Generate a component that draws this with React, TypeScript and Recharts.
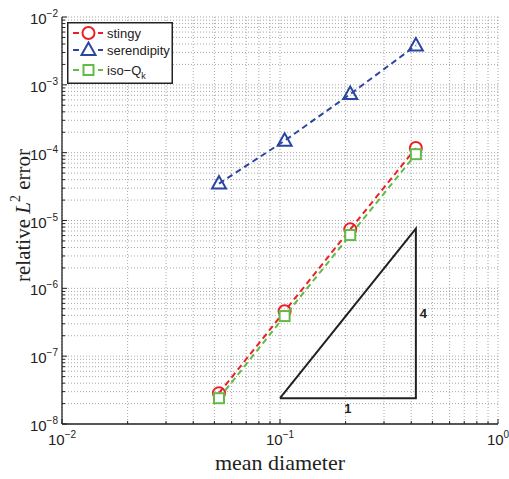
import { ScatterChart, Scatter, XAxis, YAxis, CartesianGrid, Legend, ReferenceDot } from "recharts";

const diameters = [0.0525, 0.105, 0.21, 0.42];
const stingyErr = [2.85e-8, 4.6e-7, 7.4e-6, 1.17e-4];
const serendipityErr = [3.5e-5, 1.5e-4, 7.3e-4, 3.8e-3];
const isoQkErr = [2.4e-8, 3.9e-7, 6.1e-6, 9.5e-5];

// slope triangle (1 : 4)
const triX = [0.1, 0.42, 0.42, 0.1];
const triY = [2.4e-8, 2.4e-8, 7.6e-6, 2.4e-8];

const xDecades = [0.01, 0.1, 1];
const yDecades = [1e-8, 1e-7, 1e-6, 1e-5, 1e-4, 1e-3, 1e-2];
const minorSteps = [1, 2, 3, 4, 5, 6, 7, 8, 9];

const RED = "#ec1f27";
const BLUE = "#2b46a0";
const GREEN = "#62bb45";
const SANS = "Liberation Sans, Arial, sans-serif";
const SERIF = "Liberation Serif, Times New Roman, serif";

const buildTicks = (decades: number[]) => [
  ...decades.slice(0, -1).flatMap((d) => minorSteps.map((m) => m * d)),
  decades[decades.length - 1],
];
const xTicks = buildTicks(xDecades);
const yTicks = buildTicks(yDecades);

const toPoints = (xs: number[], ys: number[]) => xs.map((x, i) => ({ x, y: ys[i] }));
const stingyData = toPoints(diameters, stingyErr);
const serendipityData = toPoints(diameters, serendipityErr);
const isoData = toPoints(diameters, isoQkErr);
const triData = toPoints(triX, triY);

const tickInfo = (v: number) => {
  const lg = Math.log10(v);
  const exp = Math.round(lg);
  return { exp, major: Math.abs(lg - exp) < 1e-6 };
};

const Pow = ({ exp }: { exp: number }) => (
  <>
    10
    <tspan dy={-7} fontSize={10}>
      {exp < 0 ? "\u2212" + Math.abs(exp) : String(exp)}
    </tspan>
  </>
);

const makeTick = (side: "bottom" | "left" | "top" | "right") => (props: any) => {
  const { x, y, payload } = props;
  const { exp, major } = tickInfo(payload.value);
  const len = major ? 5 : 3;
  if (side === "bottom") {
    return (
      <g>
        <line x1={x} x2={x} y1={y} y2={y - len} stroke="#222" />
        {major && (
          <text x={x} y={y + 21} textAnchor="middle" fontSize={15} fontFamily={SANS} fill="#222">
            <Pow exp={exp} />
          </text>
        )}
      </g>
    );
  }
  if (side === "left") {
    return (
      <g>
        <line x1={x} x2={x + len} y1={y} y2={y} stroke="#222" />
        {major && (
          <text x={x - 4} y={y + 7} textAnchor="end" fontSize={15} fontFamily={SANS} fill="#222">
            <Pow exp={exp} />
          </text>
        )}
      </g>
    );
  }
  if (side === "top") return <line x1={x} x2={x} y1={y} y2={y + len} stroke="#222" />;
  return <line x1={x} x2={x - len} y1={y} y2={y} stroke="#222" />;
};

const Circle = ({ cx, cy }: any) => <circle cx={cx} cy={cy} r={6} fill="none" stroke={RED} strokeWidth={2} />;
const Tri = ({ cx, cy }: any) => (
  <polygon
    points={`${cx},${cy - 7.5} ${cx - 7},${cy + 5} ${cx + 7},${cy + 5}`}
    fill="none"
    stroke={BLUE}
    strokeWidth={2}
  />
);
const Sq = ({ cx, cy }: any) => (
  <rect x={cx - 5} y={cy - 5} width={10} height={10} fill="#fff" stroke={GREEN} strokeWidth={2} />
);

const legendRows = [
  { name: "stingy", color: RED, Mark: Circle },
  { name: "serendipity", color: BLUE, Mark: Tri },
  { name: "iso\u2212Q", color: GREEN, Mark: Sq, sub: "k" },
];

const LegendBox = () => (
  <svg width={106} height={62} style={{ display: "block" }}>
    <rect x={0.75} y={0.75} width={104.5} height={60.5} fill="#fff" stroke="#222" strokeWidth={1.5} />
    {legendRows.map((r, i) => {
      const cy = [11, 28, 48][i];
      return (
        <g key={r.name}>
          <line x1={6} x2={12} y1={cy} y2={cy} stroke={r.color} strokeWidth={2} />
          <line x1={31} x2={36} y1={cy} y2={cy} stroke={r.color} strokeWidth={2} />
          <r.Mark cx={21.5} cy={cy} />
          <text x={40} y={cy + 4.5} fontSize={13} fontFamily={SANS} fill="#222">
            {r.name}
            {r.sub && (
              <tspan dy={4} fontSize={9}>
                {r.sub}
              </tspan>
            )}
          </text>
        </g>
      );
    })}
  </svg>
);

const dash = { strokeWidth: 2, strokeDasharray: "6 4" };

export default function App() {
  return (
    <div style={{ position: "absolute", left: 0, top: 0, background: "#fff" }}>
      <ScatterChart width={509} height={479} margin={{ top: 17, right: 11, left: 0, bottom: 0 }}>
        <CartesianGrid stroke="#a8a8a8" strokeDasharray="1 2" />
        <XAxis
          dataKey="x"
          type="number"
          scale="log"
          domain={[0.01, 1]}
          ticks={xTicks}
          interval={0}
          allowDataOverflow
          height={55}
          tickSize={0}
          tickMargin={0}
          tickLine={false}
          axisLine={{ stroke: "#222", strokeWidth: 1.3 }}
          tick={makeTick("bottom")}
          label={(p: any) => {
            const vb = p.viewBox;
            return (
              <text x={vb.x + vb.width / 2} y={vb.y + 46} textAnchor="middle" fontSize={22} fontFamily={SERIF} fill="#222">
                mean diameter
              </text>
            );
          }}
        />
        <XAxis
          xAxisId="top"
          orientation="top"
          type="number"
          scale="log"
          domain={[0.01, 1]}
          ticks={xTicks}
          interval={0}
          allowDataOverflow
          height={0}
          tickSize={0}
          tickMargin={0}
          tickLine={false}
          axisLine={{ stroke: "#222", strokeWidth: 1.3 }}
          tick={makeTick("top")}
        />
        <YAxis
          dataKey="y"
          type="number"
          scale="log"
          domain={[1e-8, 1e-2]}
          ticks={yTicks}
          interval={0}
          allowDataOverflow
          width={62}
          tickSize={0}
          tickMargin={0}
          tickLine={false}
          axisLine={{ stroke: "#222", strokeWidth: 1.3 }}
          tick={makeTick("left")}
          label={(p: any) => {
            const vb = p.viewBox;
            const cx = vb.x + 23;
            const cy = vb.y + vb.height / 2 - 5;
            return (
              <text
                x={cx}
                y={cy}
                transform={`rotate(-90 ${cx} ${cy})`}
                textAnchor="middle"
                dominantBaseline="central"
                fontSize={21}
                fontFamily={SERIF}
                fill="#222"
              >
                relative <tspan fontStyle="italic">L</tspan>
                <tspan dy={-8} fontSize={14}>2</tspan>
                <tspan dy={8}> error</tspan>
              </text>
            );
          }}
        />
        <YAxis
          yAxisId="right"
          orientation="right"
          type="number"
          scale="log"
          domain={[1e-8, 1e-2]}
          ticks={yTicks}
          interval={0}
          allowDataOverflow
          width={0}
          tickSize={0}
          tickMargin={0}
          tickLine={false}
          axisLine={{ stroke: "#222", strokeWidth: 1.3 }}
          tick={makeTick("right")}
        />
        <Scatter data={serendipityData} line={{ stroke: BLUE, ...dash }} shape={Tri} isAnimationActive={false} />
        <Scatter data={stingyData} line={{ stroke: RED, ...dash }} shape={Circle} isAnimationActive={false} />
        <Scatter data={isoData} line={{ stroke: GREEN, ...dash }} shape={Sq} isAnimationActive={false} />
        <Scatter data={triData} line={{ stroke: "#222", strokeWidth: 2 }} shape={() => <g />} isAnimationActive={false} />
        <ReferenceDot
          x={Math.sqrt(triX[0] * triX[1])}
          y={triY[0]}
          r={0}
          shape={(p: any) => (
            <text x={p.cx} y={p.cy + 15} textAnchor="middle" fontSize={13} fontWeight="bold" fontFamily={SANS} fill="#222">
              1
            </text>
          )}
        />
        <ReferenceDot
          x={triX[1]}
          y={Math.sqrt(triY[1] * triY[2])}
          r={0}
          shape={(p: any) => (
            <text x={p.cx + 4} y={p.cy + 5} fontSize={13} fontWeight="bold" fontFamily={SANS} fill="#222">
              4
            </text>
          )}
        />
        <Legend
          layout="vertical"
          align="center"
          verticalAlign="middle"
          wrapperStyle={{ left: 67, top: 22, width: "auto", height: "auto" }}
          content={() => <LegendBox />}
        />
      </ScatterChart>
    </div>
  );
}
